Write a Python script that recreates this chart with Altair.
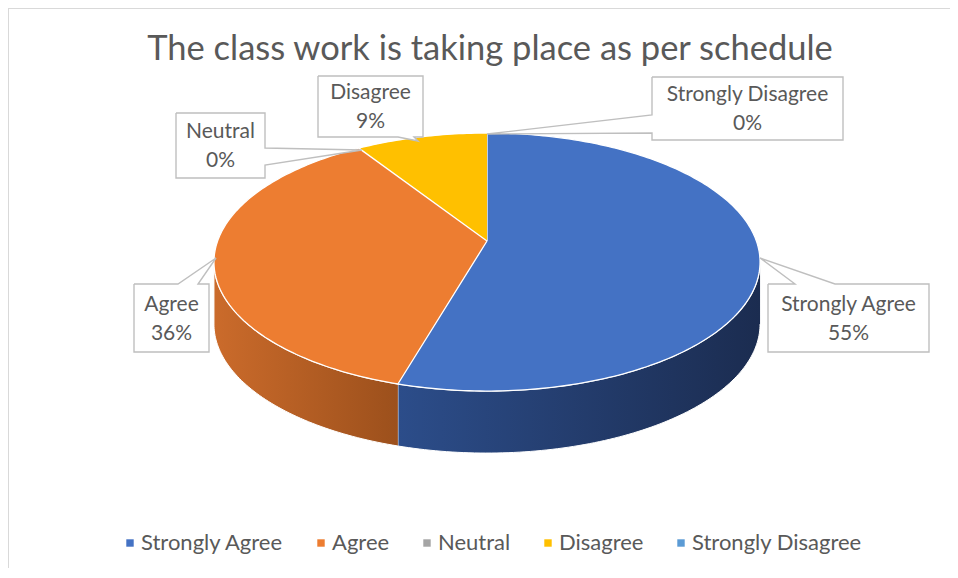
import altair as alt
import numpy as np
import pandas as pd

# ---------------- data ----------------
categories = ["Strongly Agree", "Agree", "Neutral", "Disagree", "Strongly Disagree"]
shares = [54.5, 36.4, 0, 9.1, 0]
percent_labels = ["55%", "36%", "0%", "9%", "0%"]
colors = ["#4472C4", "#ED7D31", "#A5A5A5", "#FFC000", "#5B9BD5"]
title_text = "The class work is taking place as per schedule"

# ---------------- layout (reference pixel frame) ----------------
X0, X1, Y0, Y1 = 8, 950, 8, 568
W, H = X1 - X0, Y1 - Y0
CX, APY = 487, 241          # projected pie centre
K = 0.163                   # perspective strength
SX, SY = 269.4, 125.6       # projected radii
DEPTH = 62
FONT = "Lato"
TEXT_COLOR = "#595959"

side_gradients = {
    "Strongly Agree": ["#2c4d8a", "#1b2c50"],
    "Agree": ["#cb6b2b", "#9c501c"],
}

# callout layout: box (x0, y0, x1, y1), wedge side, wedge base (b0, b1), tip (tx, ty)
callout_layout = {
    "Strongly Agree": ((768, 284, 929, 352), "top", (795, 835), (760, 258)),
    "Agree": ((134, 284, 209, 352), "top", (178, 198), (216, 258)),
    "Neutral": ((176, 113, 265, 178), "right", (148, 165), (362, 150)),
    "Disagree": ((318, 76, 423, 137), "bottom", (398, 414), (418, 141)),
    "Strongly Disagree": ((652, 77, 843, 140), "left", (115, 133), (487, 134)),
}


def proj(t, dy=0.0):
    r = np.radians(t)
    X, Z = np.sin(r), np.cos(r)
    w = 1 + K * Z
    return CX + SX * X / w, APY - SY * Z / w + dy


total = float(sum(shares))
cum = np.cumsum([0] + shares) / total * 360.0
side_lo = 90 + np.degrees(np.arcsin(K))
side_hi = 270 - np.degrees(np.arcsin(K))

rows = []
for i, cat in enumerate(categories):
    a0, a1 = cum[i], cum[i + 1]
    if a1 - a0 <= 0:
        continue
    ts = np.linspace(a0, a1, int(a1 - a0) + 2)
    pts = [(CX, APY)] + [proj(t) for t in ts]
    for k, (x, y) in enumerate(pts):
        rows.append(dict(shape="top_" + cat, part="top", category=cat, k=k, x=x, y=y))
    s0, s1 = max(a0, side_lo), min(a1, side_hi)
    if s1 > s0:
        ts = np.linspace(s0, s1, int(s1 - s0) + 2)
        pts = [proj(t) for t in ts] + [proj(t, DEPTH) for t in ts[::-1]]
        for k, (x, y) in enumerate(pts):
            rows.append(dict(shape="side_" + cat, part="side", category=cat, k=k, x=x, y=y))

poly = pd.DataFrame(rows)


def callout_points(box, side, base, tip):
    x0, y0, x1, y1 = box
    b0, b1 = base
    tx, ty = tip
    pts = [(x0, y0)]
    if side == "top":
        pts += [(b0, y0), (tx, ty), (b1, y0)]
    pts += [(x1, y0)]
    if side == "right":
        pts += [(x1, b0), (tx, ty), (x1, b1)]
    pts += [(x1, y1)]
    if side == "bottom":
        pts += [(b1, y1), (tx, ty), (b0, y1)]
    pts += [(x0, y1)]
    if side == "left":
        pts += [(x0, b1), (tx, ty), (x0, b0)]
    pts += [(x0, y0)]
    return pts


LINE_H = 29
crow, trow = [], []
for cat, pct in zip(categories, percent_labels):
    box, side, base, tip = callout_layout[cat]
    for k, (x, y) in enumerate(callout_points(box, side, base, tip)):
        crow.append(dict(shape="c_" + cat, k=k, x=x, y=y))
    trow.append(dict(x=(box[0] + box[2]) / 2,
                     y=(box[1] + box[3]) / 2 - LINE_H / 2 + 1,
                     label=cat + "\n" + pct))
callouts = pd.DataFrame(crow)
labels = pd.DataFrame(trow)
title_df = pd.DataFrame([dict(x=490, y=60, label=title_text)])

xs = alt.Scale(domain=[X0, X1], nice=False, zero=False)
ys = alt.Scale(domain=[Y0, Y1], nice=False, zero=False, reverse=True)
X = alt.X("x:Q", scale=xs, axis=None)
Y = alt.Y("y:Q", scale=ys, axis=None)

layers = []
for cat, (c0, c1) in side_gradients.items():
    grad = alt.LinearGradient(
        gradient="linear",
        stops=[alt.GradientStop(color=c0, offset=0), alt.GradientStop(color=c1, offset=1)],
        x1=0, x2=1, y1=0, y2=0,
    )
    layers.append(
        alt.Chart(poly[poly["shape"] == "side_" + cat])
        .mark_line(fill=grad, stroke="white", strokeWidth=1, strokeJoin="round")
        .encode(x=X, y=Y, order="k:Q")
    )

top = (
    alt.Chart(poly[poly["part"] == "top"])
    .mark_line(stroke="white", strokeWidth=1.3, strokeJoin="round")
    .encode(
        x=X, y=Y, order="k:Q", detail="shape:N",
        fill=alt.Fill(
            "category:N",
            scale=alt.Scale(domain=categories, range=colors),
            legend=alt.Legend(
                title=None, orient="none", direction="horizontal",
                legendX=111, legendY=524,
                symbolType="square", symbolSize=55, symbolStrokeWidth=0,
                labelFont=FONT, labelFontSize=22, labelColor=TEXT_COLOR,
                labelOffset=0, labelLimit=400, columnPadding=26, padding=0,
            ),
        ),
    )
)
layers.append(top)

layers.append(
    alt.Chart(callouts)
    .mark_line(fill="white", stroke="#bfbfbf", strokeWidth=1.4)
    .encode(x=X, y=Y, order="k:Q", detail="shape:N")
)
layers.append(
    alt.Chart(labels)
    .mark_text(font=FONT, fontSize=21, color=TEXT_COLOR, lineBreak="\n", lineHeight=LINE_H,
               align="center", baseline="middle")
    .encode(x=X, y=Y, text="label:N")
)
layers.append(
    alt.Chart(title_df)
    .mark_text(font=FONT, fontSize=34.5, color=TEXT_COLOR, align="center", baseline="alphabetic")
    .encode(x=X, y=Y, text="label:N")
)
layers.append(
    alt.Chart(title_df).mark_rule(color="#d9d9d9", strokeWidth=2)
    .encode(x=alt.value(0), y=alt.value(0), y2=alt.value(H))
)
layers.append(
    alt.Chart(title_df).mark_rule(color="#d9d9d9", strokeWidth=2)
    .encode(x=alt.value(0), x2=alt.value(W), y=alt.value(0))
)

chart = (
    alt.layer(*layers)
    .properties(width=W, height=H, padding=0, autosize=alt.AutoSizeParams(type="none"))
    .configure_view(stroke=None)
    .configure(background="white")
)

chart.save("out.html", embed_options={"renderer": "svg", "actions": False})
